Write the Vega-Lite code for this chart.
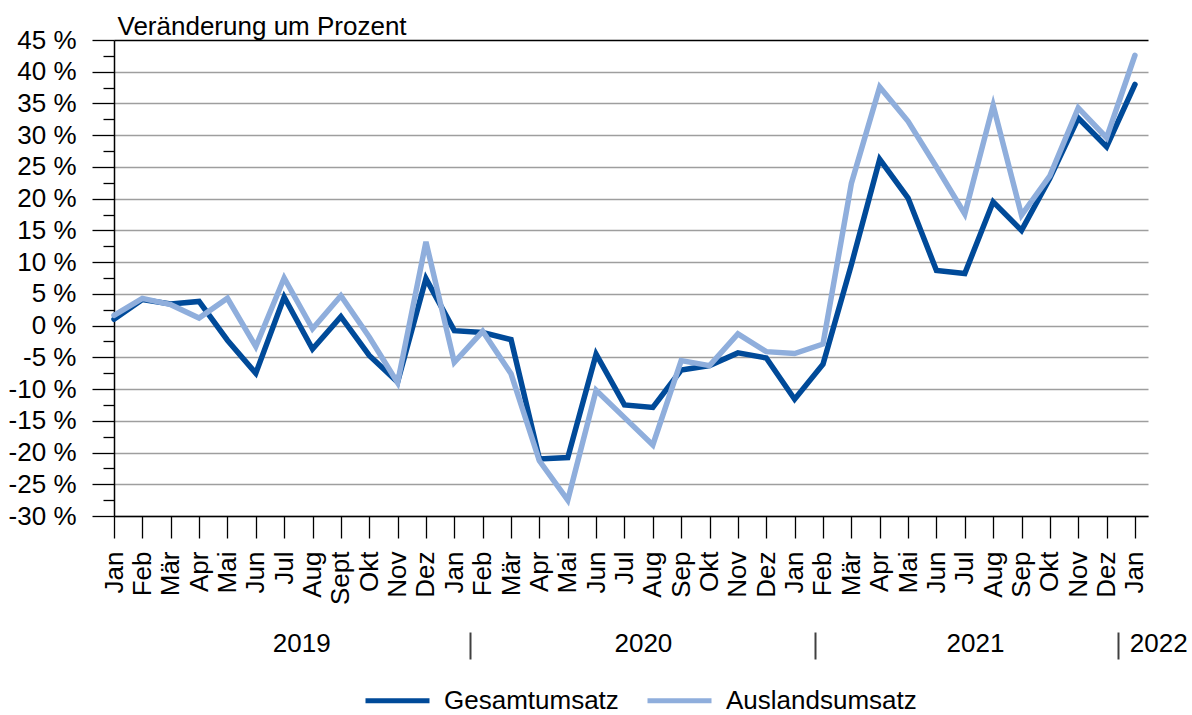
{
  "$schema": "https://vega.github.io/schema/vega-lite/v6.json",
  "width": 1034,
  "height": 476,
  "autosize": "none",
  "padding": {"left": 114, "top": 40, "right": 44, "bottom": 199},
  "config": {
    "font": "Liberation Sans",
    "view": {"stroke": null},
    "axis": {"labelFont": "Liberation Sans", "labelFontSize": 26, "labelColor": "#000000", "titleFont": "Liberation Sans", "titleFontSize": 26, "titleFontWeight": "normal", "titleColor": "#000000"}
  },
  "data": {"values": [
    {"nr": 0, "monat": "Jan", "jahr": 2019, "gesamt": 1.0, "ausland": 1.6},
    {"nr": 1, "monat": "Feb", "jahr": 2019, "gesamt": 4.1, "ausland": 4.3},
    {"nr": 2, "monat": "Mär", "jahr": 2019, "gesamt": 3.4, "ausland": 3.3},
    {"nr": 3, "monat": "Apr", "jahr": 2019, "gesamt": 3.8, "ausland": 1.2},
    {"nr": 4, "monat": "Mai", "jahr": 2019, "gesamt": -2.3, "ausland": 4.3},
    {"nr": 5, "monat": "Jun", "jahr": 2019, "gesamt": -7.5, "ausland": -3.3},
    {"nr": 6, "monat": "Jul", "jahr": 2019, "gesamt": 4.5, "ausland": 7.5},
    {"nr": 7, "monat": "Aug", "jahr": 2019, "gesamt": -3.7, "ausland": -0.5},
    {"nr": 8, "monat": "Sept", "jahr": 2019, "gesamt": 1.4, "ausland": 4.7},
    {"nr": 9, "monat": "Okt", "jahr": 2019, "gesamt": -4.7, "ausland": -1.8},
    {"nr": 10, "monat": "Nov", "jahr": 2019, "gesamt": -8.9, "ausland": -9.0},
    {"nr": 11, "monat": "Dez", "jahr": 2019, "gesamt": 7.4, "ausland": 13.2},
    {"nr": 12, "monat": "Jan", "jahr": 2020, "gesamt": -0.8, "ausland": -5.8},
    {"nr": 13, "monat": "Feb", "jahr": 2020, "gesamt": -1.1, "ausland": -0.9},
    {"nr": 14, "monat": "Mär", "jahr": 2020, "gesamt": -2.2, "ausland": -7.6},
    {"nr": 15, "monat": "Apr", "jahr": 2020, "gesamt": -21.0, "ausland": -21.3},
    {"nr": 16, "monat": "Mai", "jahr": 2020, "gesamt": -20.8, "ausland": -27.5},
    {"nr": 17, "monat": "Jun", "jahr": 2020, "gesamt": -4.5, "ausland": -10.2},
    {"nr": 18, "monat": "Jul", "jahr": 2020, "gesamt": -12.5, "ausland": -14.5},
    {"nr": 19, "monat": "Aug", "jahr": 2020, "gesamt": -12.9, "ausland": -18.8},
    {"nr": 20, "monat": "Sep", "jahr": 2020, "gesamt": -7.0, "ausland": -5.5},
    {"nr": 21, "monat": "Okt", "jahr": 2020, "gesamt": -6.3, "ausland": -6.3},
    {"nr": 22, "monat": "Nov", "jahr": 2020, "gesamt": -4.3, "ausland": -1.3},
    {"nr": 23, "monat": "Dez", "jahr": 2020, "gesamt": -5.1, "ausland": -4.1},
    {"nr": 24, "monat": "Jan", "jahr": 2021, "gesamt": -11.6, "ausland": -4.4},
    {"nr": 25, "monat": "Feb", "jahr": 2021, "gesamt": -6.1, "ausland": -2.9},
    {"nr": 26, "monat": "Mär", "jahr": 2021, "gesamt": 9.6, "ausland": 22.4},
    {"nr": 27, "monat": "Apr", "jahr": 2021, "gesamt": 26.2, "ausland": 37.6},
    {"nr": 28, "monat": "Mai", "jahr": 2021, "gesamt": 20.1, "ausland": 32.2},
    {"nr": 29, "monat": "Jun", "jahr": 2021, "gesamt": 8.7, "ausland": 25.0},
    {"nr": 30, "monat": "Jul", "jahr": 2021, "gesamt": 8.2, "ausland": 17.6},
    {"nr": 31, "monat": "Aug", "jahr": 2021, "gesamt": 19.5, "ausland": 34.7},
    {"nr": 32, "monat": "Sep", "jahr": 2021, "gesamt": 15.0, "ausland": 17.4},
    {"nr": 33, "monat": "Okt", "jahr": 2021, "gesamt": 23.2, "ausland": 23.6},
    {"nr": 34, "monat": "Nov", "jahr": 2021, "gesamt": 32.7, "ausland": 34.3},
    {"nr": 35, "monat": "Dez", "jahr": 2021, "gesamt": 28.2, "ausland": 29.6},
    {"nr": 36, "monat": "Jan", "jahr": 2022, "gesamt": 38.0, "ausland": 42.6}
  ]},
  "layer": [
    {
      "mark": {"type": "line", "strokeWidth": 5.5, "strokeCap": "round"},
      "encoding": {
        "x": {"field": "nr", "type": "quantitative",
          "scale": {"domain": [0, 36.46], "nice": false, "zero": false},
          "axis": {"orient": "bottom", "values": [0,1,2,3,4,5,6,7,8,9,10,11,12,13,14,15,16,17,18,19,20,21,22,23,24,25,26,27,28,29,30,31,32,33,34,35,36],
            "labelExpr": "datum.value == 8 ? 'Sept' : ['Jan','Feb','Mär','Apr','Mai','Jun','Jul','Aug','Sep','Okt','Nov','Dez'][datum.value % 12]",
            "labelAngle": -90, "labelAlign": "right", "labelBaseline": "middle", "labelPadding": 13,
            "labelFlush": false, "labelOverlap": false, "labelBound": false,
            "tickSize": 22, "tickColor": "#000000", "tickWidth": 1.3, "domainColor": "#000000", "domainWidth": 1.5,
            "grid": false, "title": null}},
        "y": {"field": "gesamt", "type": "quantitative",
          "scale": {"domain": [-30, 45], "nice": false, "zero": false},
          "axis": {"orient": "left", "values": [-30,-25,-20,-15,-10,-5,0,5,10,15,20,25,30,35,40,45],
            "labelExpr": "datum.value + ' %'", "labelPadding": 16, "labelAlign": "right", "labelBaseline": "middle",
            "tickSize": 22, "tickColor": "#000000", "tickWidth": 1.3, "domainColor": "#000000", "domainWidth": 1.5,
            "grid": true, "gridColor": {"condition": {"test": "datum.value == 45", "value": "#000000"}, "value": "#9E9E9E"}, "gridWidth": 1.5,
            "title": "Veränderung um Prozent", "titleAngle": 0, "titleAlign": "left", "titleBaseline": "alphabetic", "titleX": 3, "titleY": -6}},
        "color": {"datum": "Gesamtumsatz", "type": "nominal",
          "scale": {"domain": ["Gesamtumsatz", "Auslandsumsatz"], "range": ["#004A99", "#8FAEDC"]},
          "legend": {"orient": "none", "legendX": 249, "legendY": 626, "direction": "horizontal", "title": null,
            "symbolType": "stroke", "symbolSize": 4096, "symbolStrokeWidth": 5,
            "labelFont": "Liberation Sans", "labelFontSize": 26, "labelColor": "#000000", "labelLimit": 0, "labelOffset": 12, "columnPadding": 18}}
      }
    },
    {
      "mark": {"type": "line", "strokeWidth": 5.5, "strokeCap": "round"},
      "encoding": {
        "x": {"field": "nr", "type": "quantitative", "axis": null},
        "y": {"field": "ausland", "type": "quantitative", "axis": null},
        "color": {"datum": "Auslandsumsatz", "type": "nominal"}
      }
    },
    {
      "mark": {"type": "point", "opacity": 0},
      "encoding": {
        "x": {"field": "nr", "type": "quantitative",
          "axis": {"orient": "bottom", "values": [6.6, 18.65, 30.36, 35.8],
            "labelExpr": "datum.value < 10 ? '2019' : datum.value < 20 ? '2020' : datum.value < 32 ? '2021' : '2022'",
            "labelAlign": {"condition": {"test": "datum.value > 35", "value": "left"}, "value": "center"},
            "labelAngle": 0, "labelBaseline": "top", "labelPadding": 114, "labelFlush": false, "labelOverlap": false, "labelBound": false,
            "ticks": false, "domain": false, "grid": false, "title": null}},
        "y": {"field": "gesamt", "type": "quantitative",
          "axis": {"orient": "left", "values": [-27.5,-22.5,-17.5,-12.5,-7.5,-2.5,2.5,7.5,12.5,17.5,22.5,27.5,32.5,37.5,42.5],
            "labels": false, "domain": false, "grid": false, "tickSize": 11, "tickColor": "#000000", "tickWidth": 1.3, "title": null}}
      }
    },
    {
      "mark": {"type": "point", "opacity": 0},
      "encoding": {
        "x": {"field": "nr", "type": "quantitative",
          "axis": {"orient": "bottom", "values": [12.54, 24.71, 35.41], "offset": 116,
            "labels": false, "domain": false, "grid": false, "tickSize": 27, "tickColor": "#404040", "tickWidth": 2, "title": null}},
        "y": {"field": "gesamt", "type": "quantitative", "axis": null}
      }
    }
  ],
  "resolve": {"axis": {"x": "independent", "y": "independent"}}
}
